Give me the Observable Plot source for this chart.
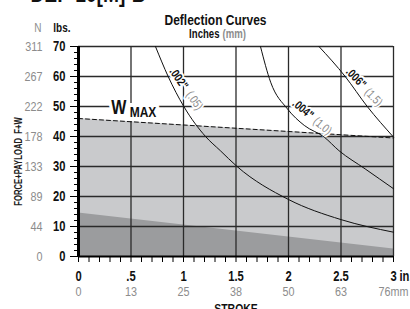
<!DOCTYPE html>
<html><head><meta charset="utf-8">
<script src="https://cdn.jsdelivr.net/npm/d3@7"></script>
<script src="https://cdn.jsdelivr.net/npm/@observablehq/plot@0.6"></script>
<style>body{margin:0;background:#fff} svg{overflow:visible}</style>
</head><body><div id="chart"></div>
<script>
// Shaded load regions (x = stroke in inches, y = lbs)
const regionX = [0, 3];
const wmaxLbs = [46, 39.5];
const baseLbs = [14.5, 2.5];

// Deflection curves
const c002x = [0.733, 0.854, 1.003, 1.21, 1.35, 1.51, 2.0, 2.5, 3.0];
const c002y = [70, 60, 50, 40, 35.3, 30, 19, 12.3, 8.1];
const c004x = [1.733, 1.83, 1.99, 2.15, 2.34, 2.48, 2.73, 3.0];
const c004y = [70, 58.1, 49.2, 43.7, 39.8, 35.3, 29.2, 22.6];
const c006x = [2.29, 2.54, 2.75, 3.0];
const c006y = [70, 60, 50, 39.8];

// Curve labels
const curveNames = ['.002"', '.004"', '.006"'];
const curveMm = ['(.05)', '(1.0)', '(1.5)'];
const nameX = [0.955, 2.138, 2.643];
const nameY = [59.3, 49.1, 59.5];
const mmX = [1.105, 2.324, 2.81];
const mmY = [52, 43.5, 53.1];

// Axes
const yTicks = [0, 10, 20, 30, 40, 50, 60, 70];
const lbsLabels = ["0", "10", "20", "30", "40", "50", "60", "70"];
const nLabels = ["0", "44", "89", "133", "178", "222", "267", "311"];
const xTicks = [0, 0.5, 1, 1.5, 2, 2.5, 3];
const inLabels = ["0", ".5", "1", "1.5", "2", "2.5", "3"];
const mmLabels = ["0", "13", "25", "38", "50", "63", "76mm"];

const toRows = (xs, ys) => xs.map((x, i) => ({x, y: ys[i]}));
const FONT = "'Liberation Sans',Arial,sans-serif";
const GRAY = "#8c8c8c";
const GRID = "#2a2a2a";

const wmax = toRows(regionX, wmaxLbs);
const base = toRows(regionX, baseLbs);

// a single text placed at data coordinates (x in inches, y in lbs)
const at = (x, y, text, opts) => Plot.text([0], {x: () => x, y: () => y, text: () => text, ...opts});

function lab(i, rot) {
  return [
    at(nameX[i], nameY[i], curveNames[i], {rotate: rot, fontWeight: "bold", fontSize: 12, fill: "#111", stroke: "white", strokeWidth: 4}),
    at(mmX[i], mmY[i], curveMm[i], {rotate: rot, fontSize: 12, fill: GRAY, stroke: "white", strokeWidth: 4})
  ];
}

const chart = Plot.plot({
  width: 410, height: 309,
  marginLeft: 78, marginRight: 17, marginTop: 46, marginBottom: 53,
  x: {domain: [0, 3], axis: null},
  y: {domain: [0, 70], axis: null},
  style: {fontFamily: FONT, background: "white", overflow: "visible"},
  marks: [
    Plot.areaY(wmax, {x: "x", y: "y", fill: "#c9cacc"}),
    Plot.areaY(base, {x: "x", y: "y", fill: "#9b9c9e"}),
    Plot.ruleX(xTicks.slice(1), {stroke: GRID, strokeWidth: 1.3}),
    Plot.ruleY(yTicks.slice(1), {stroke: GRID, strokeWidth: 1.3}),
    Plot.line(wmax, {x: "x", y: "y", stroke: "#111", strokeWidth: 1, strokeDasharray: "4,3"}),
    // W MAX label
    at(0.384, 49.5, "W", {fontSize: 20, fontWeight: "bold", fill: "#111", stroke: "white", strokeWidth: 8}),
    at(0.614, 48.2, "MAX", {fontSize: 15, fontWeight: "bold", fill: "#111", stroke: "white", strokeWidth: 8}),
    ...lab(0, 55), ...lab(1, 40), ...lab(2, 46),
    Plot.line(toRows(c002x, c002y), {x: "x", y: "y", curve: "monotone-x", stroke: "#111", strokeWidth: 1}),
    Plot.line(toRows(c004x, c004y), {x: "x", y: "y", curve: "monotone-x", stroke: "#111", strokeWidth: 1}),
    Plot.line(toRows(c006x, c006y), {x: "x", y: "y", curve: "monotone-x", stroke: "#111", strokeWidth: 1}),
    // frame axes
    Plot.ruleX([0], {stroke: "#000", strokeWidth: 3}),
    Plot.ruleY([0], {stroke: "#000", strokeWidth: 2}),
    // y ticks
    Plot.axisY({ticks: d3.range(0, 71, 2), tickSize: 4, tickFormat: () => "", label: null, stroke: "#000"}),
    Plot.axisY({ticks: yTicks, tickSize: 8, tickFormat: () => "", label: null, stroke: "#000"}),
    Plot.axisY({ticks: yTicks, tickSize: 0, tickPadding: 13, tickFormat: (d, i) => lbsLabels[i], label: null,
      fontWeight: "bold", fontSize: 14, fill: "#111"}),
    Plot.axisY({ticks: yTicks, tickSize: 0, tickPadding: 36, tickFormat: (d, i) => nLabels[i], label: null,
      fontSize: 13.5, fill: GRAY}),
    // unit headers above the y labels
    Plot.axisY({ticks: [70], tickSize: 0, tickPadding: 37, tickFormat: () => "N", label: null, dy: -19,
      fontSize: 12.5, fill: GRAY}),
    Plot.axisY({ticks: [70], tickSize: 0, tickPadding: 8, tickFormat: () => "lbs.", label: null, dy: -19,
      fontSize: 12.5, fontWeight: "bold", fill: "#111"}),
    // x ticks
    Plot.axisX({ticks: d3.range(0, 3.01, 0.1), tickSize: 6, tickFormat: () => "", label: null, stroke: "#000"}),
    Plot.axisX({ticks: xTicks, tickSize: 0, tickPadding: 15, tickFormat: (d, i) => inLabels[i], label: null,
      fontWeight: "bold", fontSize: 14, fill: "#111"}),
    Plot.axisX({ticks: xTicks, tickSize: 0, tickPadding: 30, tickFormat: (d, i) => mmLabels[i], label: null,
      fontSize: 13.5, fill: GRAY}),
    at(3, 0, "in.", {textAnchor: "start", lineAnchor: "top", dx: 6, dy: 15, fontWeight: "bold", fontSize: 14, fill: "#111"}),
    // axis titles
    at(1.5, 0, "STROKE", {lineAnchor: "top", dy: 47, fontWeight: "bold", fontSize: 13, fill: "#111"}),
    at(0, 35, "FORCE+PAYLOAD\u00a0\u00a0F+W", {rotate: -90, dx: -60, dy: 10, fontWeight: "bold", fontSize: 11, fill: "#222"}),
    // chart titles
    at(1.5, 70, "Deflection Curves", {lineAnchor: "top", dx: -20.5, dy: -32, fontSize: 15, fontWeight: "bold", fill: "#111"}),
    at(1.5, 70, "Inches", {textAnchor: "end", lineAnchor: "top", dx: -16.5, dy: -17, fontSize: 12, fontWeight: "bold", fill: "#111"}),
    at(1.5, 70, "(mm)", {textAnchor: "start", lineAnchor: "top", dx: -13.5, dy: -17, fontSize: 12, fontWeight: "bold", fill: GRAY}),
    at(0, 70, "DEF-10[M]-B", {textAnchor: "start", lineAnchor: "bottom", dx: -48, dy: -45, fontSize: 24, fontWeight: "bold", fill: "#111"})
  ]
});
// condensed type: narrow each text horizontally around its own anchor
chart.querySelectorAll("text").forEach(t => {
  const k = t.textContent.startsWith("FORCE") ? 0.7 : 0.8;
  const tr = t.getAttribute("transform") || "";
  t.setAttribute("transform", (tr + ` scale(${k},1)`).trim());
});
document.getElementById("chart").appendChild(chart);
</script>
</body></html>
